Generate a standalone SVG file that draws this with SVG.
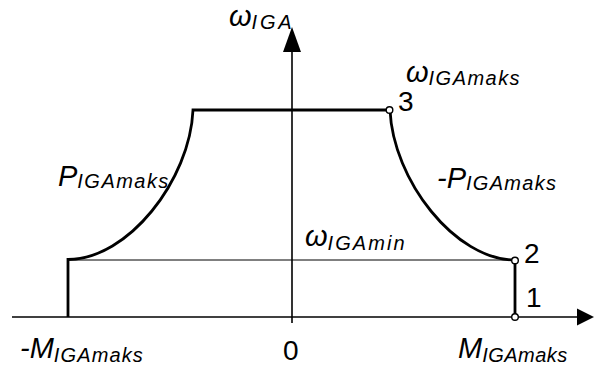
<svg xmlns="http://www.w3.org/2000/svg" width="594" height="366" viewBox="0 0 594 366">
<style>
.t{font-family:"Liberation Sans",Arial,sans-serif;font-style:italic;fill:#000}
.n{font-family:"Liberation Sans",Arial,sans-serif;fill:#000}
.big{font-size:29px}
.dig{font-size:28px}
.sub{font-size:20px}
.axis{stroke:#000;stroke-width:1.6;fill:none}
.thick{stroke:#000;stroke-width:2.8;fill:none;stroke-linejoin:miter}
.thin{stroke:#000;stroke-width:1;fill:none}
.pt{fill:#fff;stroke:#000;stroke-width:1.4}
</style>
<rect width="594" height="366" fill="#fff"/>
<g id="axes">
<line class="axis" x1="292" y1="50" x2="292" y2="323"/>
<polygon points="292,27 283,52 301,52" fill="#000"/>
<line class="axis" x1="12" y1="317" x2="580" y2="317"/>
<polygon points="594,317 577,308.5 577,325.5" fill="#000"/>
</g>
<g id="connectors">
<line class="thin" x1="68" y1="260" x2="515" y2="260"/>
<path class="thick" d="M68,317 V259.5 C128,259.5 190,180 193,110 H390 C393,180 455,260 515,260 V317"/>
</g>
<g id="points">
<circle class="pt" cx="389.5" cy="110" r="3.3"/>
<circle class="pt" cx="515" cy="260.5" r="3.3"/>
<circle class="pt" cx="515" cy="317" r="3.3"/>
</g>
<g id="labels">
<text class="t big" x="229" y="26">ω<tspan class="sub" dy="3" textLength="40">IGA</tspan></text>
<text class="t big" x="406" y="82">ω<tspan class="sub" dy="3" textLength="91">IGAmaks</tspan></text>
<text class="t big" x="305" y="246">ω<tspan class="sub" dy="4" textLength="77">IGAmin</tspan></text>
<text class="t big" x="58" y="186">P<tspan class="sub" dy="2" textLength="91">IGAmaks</tspan></text>
<text class="t big" x="437" y="188">-P<tspan class="sub" dy="2" textLength="90">IGAmaks</tspan></text>
<text class="t big" x="20" y="358">-M<tspan class="sub" dy="4" textLength="89">IGAmaks</tspan></text>
<text class="t big" x="458" y="358">M<tspan class="sub" dy="4" textLength="85">IGAmaks</tspan></text>
<text class="n dig" x="283" y="360">0</text>
<text class="n dig" x="398" y="111">3</text>
<text class="n dig" x="524" y="263">2</text>
<text class="n dig" x="526" y="307">1</text>
</g>
</svg>
